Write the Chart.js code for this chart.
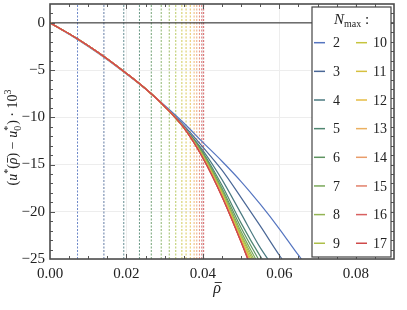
<!DOCTYPE html>
<html>
<head>
<meta charset="utf-8">
<script src="https://cdn.jsdelivr.net/npm/chart.js@4.4.1/dist/chart.umd.min.js"></script>
<style>
  html, body { margin: 0; padding: 0; background: #fff; }
  canvas { display: block; }
</style>
</head>
<body>
<canvas id="chart" width="407" height="310"></canvas>
<script>
// truncation orders shown in the legend
const nMax = [2, 3, 4, 5, 6, 7, 8, 9, 10, 11, 12, 13, 14, 15, 16, 17];
const lineColors = ['#5575c0', '#4a6796', '#4b7a80', '#4f8670', '#5e9460', '#7aa85a', '#93b454', '#adbf48',
                    '#c6c43e', '#d6c040', '#e6bd45', '#ebb060', '#e99c6a', '#e2806a', '#d86060', '#cf4a4a'];

const rhoGrid = [0, 0.005, 0.01, 0.015, 0.02, 0.025, 0.03, 0.035, 0.04, 0.045, 0.05, 0.055, 0.06, 0.065];

const u2  = [0, -1.2, -2.5, -3.9, -5.42, -7.0, -8.75, -10.6, -12.65, -14.65, -16.8, -19.2, -21.8, -24.6];
const u3  = [0, -1.15, -2.42, -3.82, -5.35, -6.98, -8.82, -10.85, -13.15, -15.6, -18.5, -21.5, -24.6];
const u4  = [0, -1.15, -2.42, -3.82, -5.35, -6.98, -8.85, -11.0, -13.5, -16.6, -20.2, -23.8];
const u5  = [0, -1.15, -2.42, -3.82, -5.35, -6.98, -8.85, -11.05, -13.7, -17.2, -21.2, -24.7];
const u6  = [0, -1.15, -2.42, -3.82, -5.35, -6.98, -8.85, -11.05, -13.8, -17.5, -21.7];
const u7  = [0, -1.15, -2.42, -3.82, -5.35, -6.98, -8.85, -11.1, -13.9, -17.7, -22.1];
const u8  = [0, -1.15, -2.42, -3.82, -5.35, -6.98, -8.85, -11.1, -14.0, -17.9, -22.4];
const u9  = [0, -1.15, -2.42, -3.82, -5.35, -6.98, -8.85, -11.1, -14.1, -18.0, -22.6];
const u10 = [0, -1.15, -2.42, -3.82, -5.35, -6.98, -8.85, -11.1, -14.15, -18.1, -22.8];
const u11 = [0, -1.15, -2.42, -3.82, -5.35, -6.98, -8.85, -11.1, -14.2, -18.2, -22.95];
const u12 = [0, -1.15, -2.42, -3.82, -5.35, -6.98, -8.85, -11.1, -14.25, -18.25, -23.05];
const u13 = [0, -1.15, -2.42, -3.82, -5.35, -6.98, -8.85, -11.1, -14.28, -18.3, -23.1];
const u14 = [0, -1.15, -2.42, -3.82, -5.35, -6.98, -8.85, -11.1, -14.3, -18.35, -23.15];
const u15 = [0, -1.15, -2.42, -3.82, -5.35, -6.98, -8.85, -11.1, -14.3, -18.38, -23.2];
const u16 = [0, -1.15, -2.42, -3.82, -5.35, -6.98, -8.85, -11.1, -14.3, -18.4, -23.2];
const u17 = [0, -1.15, -2.42, -3.82, -5.35, -6.98, -8.85, -11.1, -14.3, -18.4, -23.2];

// where each curve leaves the frame at the bottom (y = -25)
const rhoEnd = [0.0658, 0.0607, 0.057, 0.0555, 0.0545, 0.0538, 0.0533, 0.0529,
                0.0525, 0.0522, 0.052, 0.0519, 0.0519, 0.0518, 0.0518, 0.0517];

// dashed vertical markers, one per N
const rhoDashed = [0.0072, 0.0141, 0.0193, 0.0234, 0.0265, 0.0291, 0.0312, 0.0329,
                   0.0345, 0.0356, 0.0367, 0.0377, 0.0384, 0.0391, 0.0397, 0.0402];

const xMin = 0, xMax = 0.09, yMin = -25, yMax = 2;

const curves = [u2, u3, u4, u5, u6, u7, u8, u9, u10, u11, u12, u13, u14, u15, u16, u17];
const serif = '"Liberation Serif", "DejaVu Serif", serif';
const textColor = '#222';

var datasets = [];
curves.forEach((u, i) => {
    var pts = u.map((v, j) => ({x: rhoGrid[j], y: v}));
    pts.push({x: rhoEnd[i], y: yMin});
    datasets.push({
        label: String(nMax[i]),
        data: pts,
        borderColor: lineColors[i],
        borderWidth: 1.2,
        pointRadius: 0,
        cubicInterpolationMode: 'monotone',
        order: 100 - nMax[i]
    });
});
rhoDashed.forEach((r, i) => {
    datasets.push({
        label: 'marker' + nMax[i],
        data: [{x: r, y: yMin}, {x: r, y: yMax}],
        borderColor: lineColors[i] + 'dd',
        borderWidth: 1,
        borderDash: [2, 1.5],
        pointRadius: 0,
        order: 200
    });
});
datasets.push({
    label: 'zero',
    data: [{x: xMin, y: 0}, {x: xMax, y: 0}],
    borderColor: '#222',
    borderWidth: 1,
    pointRadius: 0,
    order: 150
});

function drawLine(ctx, x1, y1, x2, y2) {
    ctx.beginPath();
    ctx.moveTo(x1, y1);
    ctx.lineTo(x2, y2);
    ctx.stroke();
}

const framePlugin = {
    id: 'frame',
    afterDraw(chart) {
        const ctx = chart.ctx, a = chart.chartArea;
        const xs = chart.scales.x, ys = chart.scales.y;
        ctx.save();

        // inward ticks on all four sides
        ctx.strokeStyle = '#555';
        ctx.lineWidth = 1;
        for (var k = 1; k < 18; k++) {
            var px = Math.round(xs.getPixelForValue(k * 0.005)) + 0.5;
            var len = k % 4 === 0 ? 5 : 3;
            drawLine(ctx, px, a.bottom, px, a.bottom - len);
            drawLine(ctx, px, a.top, px, a.top + len);
        }
        for (var v = yMin + 1; v < yMax; v++) {
            var py = Math.round(ys.getPixelForValue(v)) + 0.5;
            var len2 = v % 5 === 0 ? 5 : 3;
            drawLine(ctx, a.left, py, a.left + len2, py);
            drawLine(ctx, a.right, py, a.right - len2, py);
        }

        ctx.lineWidth = 1.6;
        ctx.strokeStyle = '#4d4d4d';
        ctx.strokeRect(a.left, a.top, a.right - a.left, a.bottom - a.top);

        // legend box, two columns
        var lx = 312, ly = 7, lw = 79, lh = 250;
        ctx.fillStyle = '#fff';
        ctx.fillRect(lx, ly, lw, lh);
        ctx.lineWidth = 1.2;
        ctx.strokeStyle = '#444';
        ctx.strokeRect(lx, ly, lw, lh);

        ctx.fillStyle = textColor;
        ctx.textBaseline = 'alphabetic';
        ctx.textAlign = 'left';
        ctx.font = 'italic 15px ' + serif;
        var wN = ctx.measureText('N').width;
        ctx.font = '10px ' + serif;
        var wSub = ctx.measureText('max').width;
        ctx.font = '15px ' + serif;
        var wCol = ctx.measureText(' :').width;
        var tx = lx + lw / 2 - (wN + wSub + wCol) / 2, tyb = 24;
        ctx.font = 'italic 15px ' + serif;
        ctx.fillText('N', tx, tyb);
        ctx.font = '10px ' + serif;
        ctx.fillText('max', tx + wN, tyb + 3);
        ctx.font = '15px ' + serif;
        ctx.fillText(' :', tx + wN + wSub, tyb);

        ctx.font = '14px ' + serif;
        ctx.textBaseline = 'middle';
        nMax.forEach((n, i) => {
            var col = i < 8 ? 0 : 1;
            var row = i % 8;
            var ry = 42.7 + row * 28.65;
            var x0 = col === 0 ? 314 : 356;
            ctx.strokeStyle = lineColors[i];
            ctx.lineWidth = 1.5;
            drawLine(ctx, x0, ry, x0 + 11, ry);
            ctx.fillText(String(n), col === 0 ? 333 : 373, ry + 1);
        });

        // x axis title: rho bar
        ctx.textBaseline = 'alphabetic';
        ctx.font = 'italic 16px ' + serif;
        var wr = ctx.measureText('\u03c1').width;
        var rx = (a.left + a.right) / 2 - wr / 2 - 5;
        ctx.fillText('\u03c1', rx, 293);
        ctx.strokeStyle = textColor;
        ctx.lineWidth = 0.9;
        drawLine(ctx, rx + 1.5, 282.5, rx + wr + 1, 282.5);

        // y axis title, rotated
        ctx.translate(17, (a.top + a.bottom) / 2 + 6);
        ctx.rotate(-Math.PI / 2);
        var big = '14px ' + serif, it = 'italic 14px ' + serif, small = '10px ' + serif;
        var parts = [
            {t: '(', f: big}, {t: 'u', f: it}, {t: '*', f: small, dy: -6},
            {t: '(', f: big}, {t: '\u03c1', f: it, bar: true}, {t: ')', f: big},
            {t: ' \u2212 ', f: big}, {t: 'u', f: it},
            {t: '*', f: small, dy: -6, sub: '0'}, {t: ')', f: big},
            {t: ' \u00b7 10', f: big}, {t: '3', f: small, dy: -6}
        ];
        var total = 0;
        parts.forEach(p => {
            ctx.font = p.f;
            p.w = ctx.measureText(p.t).width;
            if (p.sub) p.w = Math.max(p.w, ctx.measureText(p.sub).width) + 1;
            total += p.w;
        });
        var cx = -total / 2;
        ctx.textAlign = 'left';
        parts.forEach(p => {
            ctx.font = p.f;
            ctx.fillText(p.t, cx, p.dy || 0);
            if (p.sub) ctx.fillText(p.sub, cx, 3.5);
            if (p.bar) {
                ctx.lineWidth = 0.9;
                drawLine(ctx, cx + 1.5, -9.5, cx + p.w, -9.5);
            }
            cx += p.w;
        });
        ctx.restore();
    }
};

new Chart(document.getElementById('chart'), {
    type: 'line',
    data: { datasets: datasets },
    options: {
        responsive: false,
        animation: false,
        layout: { padding: { top: 4, right: 13, left: 0, bottom: 0 } },
        plugins: { legend: { display: false }, tooltip: { enabled: false } },
        scales: {
            x: {
                type: 'linear',
                min: xMin,
                max: xMax,
                afterFit: s => { s.height = 51; s.paddingLeft = 0; s.paddingRight = 0; },
                grid: { color: '#ededed', drawTicks: false },
                border: { display: false },
                ticks: {
                    stepSize: 0.02,
                    includeBounds: false,
                    padding: 6,
                    color: textColor,
                    font: { family: serif, size: 15 },
                    maxRotation: 0,
                    callback: v => v.toFixed(2)
                }
            },
            y: {
                min: yMin,
                max: yMax,
                afterFit: s => { s.width = 50; s.paddingTop = 0; s.paddingBottom = 0; },
                grid: { color: '#ededed', drawTicks: false },
                border: { display: false },
                ticks: {
                    stepSize: 5,
                    includeBounds: false,
                    padding: 5,
                    color: textColor,
                    font: { family: serif, size: 15 },
                    callback: v => v === 0 ? '0' : '\u2212' + Math.abs(v)
                }
            }
        }
    },
    plugins: [framePlugin]
});
</script>
</body>
</html>
